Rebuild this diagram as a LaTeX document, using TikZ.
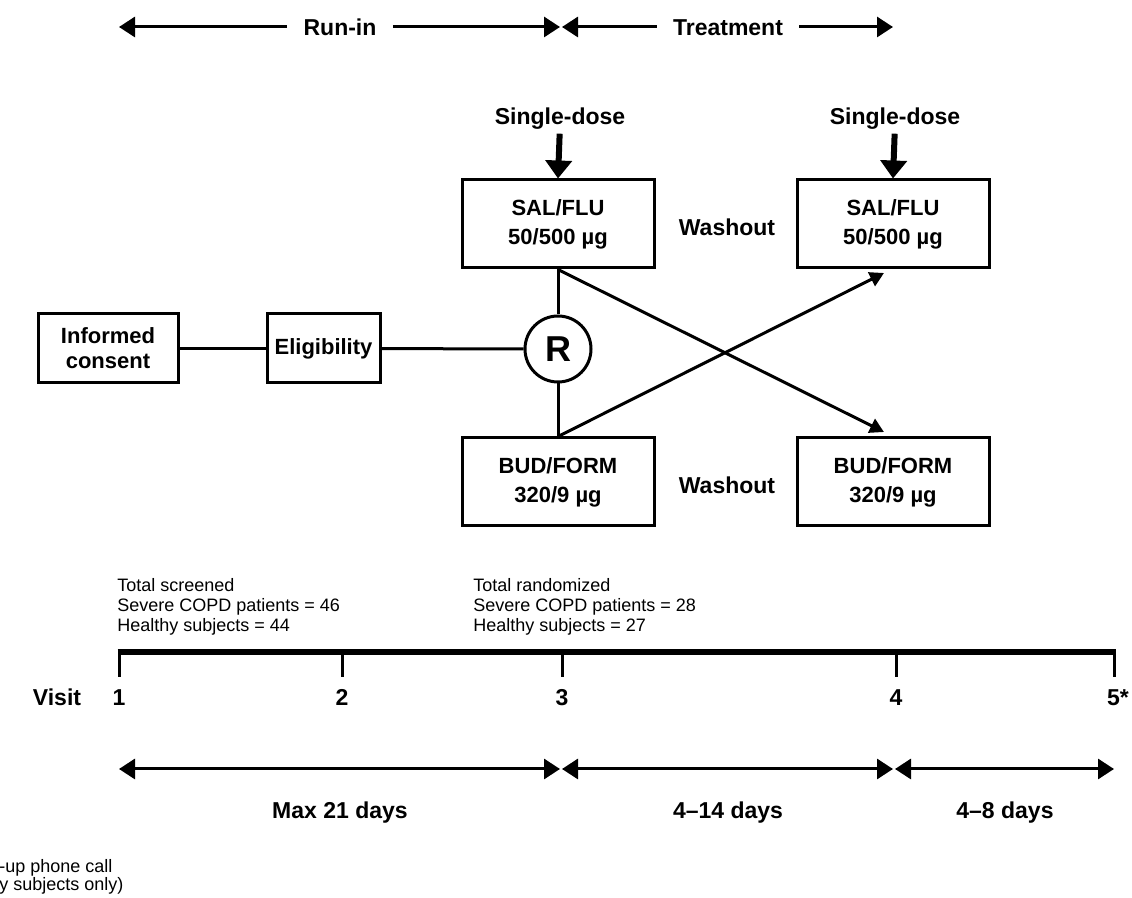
\documentclass[tikz,border=0pt]{standalone}
\usepackage{fontspec}
\setmainfont{Liberation Sans}
\usetikzlibrary{arrows.meta,calc}
\begin{document}
\begin{tikzpicture}[x=0.5pt,y=-0.5pt,
  lbl/.style={font=\fontsize{11.5}{13}\selectfont\bfseries, inner sep=0pt, text height=8.3pt, text depth=0pt},
  box/.style={draw, line width=1.5pt, align=center, font=\fontsize{11}{14.5}\selectfont\bfseries, inner sep=0pt},
  conn/.style={line width=1.5pt},
  span/.style={line width=1.5pt, -{Triangle[length=8pt,width=10pt]}},
  dspan/.style={line width=1.5pt, {Triangle[length=8pt,width=10pt]}-{Triangle[length=8pt,width=10pt]}},
  cross/.style={line width=1.5pt, -{Triangle[length=7pt,width=7.5pt]}},
  dose/.style={line width=3pt, -{Triangle[length=9pt,width=13pt]}},
  note/.style={font=\fontsize{9}{10}\selectfont, align=left, inner sep=0pt}
]
\useasboundingbox (0,0) rectangle (1132,898);
% top phase arrows
\node[lbl, inner xsep=8pt] (runin) at (340,27) {Run-in};
\coordinate (r1) at (119,27); \coordinate (r2) at (560,27);
\draw[span] (runin.west) -- (r1);
\draw[span] (runin.east) -- (r2);
\node[lbl, inner xsep=8pt] (treat) at (728,27) {Treatment};
\coordinate (t1) at (562,27); \coordinate (t2) at (893,27);
\draw[span] (treat.west) -- (t1);
\draw[span] (treat.east) -- (t2);
% single dose
\node[lbl] (sd1) at (560,116) {Single-dose};
\node[lbl] (sd2) at (895,116) {Single-dose};
% treatment boxes
\node[box, minimum width=96pt, minimum height=44pt] (sal1) at (558,224) {SAL/FLU\\50/500 µg};
\node[box, minimum width=96pt, minimum height=44pt] (sal2) at (893,224) {SAL/FLU\\50/500 µg};
\node[box, minimum width=96pt, minimum height=44pt] (bud1) at (558,482) {BUD/FORM\\320/9 µg};
\node[box, minimum width=96pt, minimum height=44pt] (bud2) at (893,482) {BUD/FORM\\320/9 µg};
\node[lbl] (wo1) at (727,227) {Washout};
\node[lbl] (wo2) at (727,485) {Washout};
\draw[dose, shorten <=4.5pt] (sd1.south) -- (sal1.north);
\draw[dose, shorten <=4.5pt] (sd2.south) -- (sal2.north);
% left part
\node[draw, circle, line width=1.5pt, minimum size=33pt, inner sep=0pt, font=\fontsize{18}{18}\selectfont\bfseries] (R) at (558,349) {R};
\node[box, minimum width=70pt, minimum height=34.5pt, font=\fontsize{11}{12.5}\selectfont\bfseries] (ic) at (108,348.5) {Informed\\consent};
\node[box, minimum width=56.5pt, minimum height=34.5pt] (el) at (323.5,348.5) {Eligibility};
\draw[conn] (ic) -- (el);
\draw[conn] (el) -- (R);
\draw[conn] (sal1) -- (R);
\draw[conn] (R) -- (bud1);
% crossover
\coordinate (c1) at (884,432); \coordinate (c2) at (884,273);
\draw[cross] (sal1.south) -- (c1);
\draw[cross] (bud1.north) -- (c2);
% counts
\node[note, anchor=west] (ts) at (117,607) {Total screened\\Severe COPD patients = 46\\Healthy subjects = 44};
\node[note, anchor=west] (tr) at (473,607) {Total randomized\\Severe COPD patients = 28\\Healthy subjects = 27};
% timeline
\coordinate (v1) at (119,652); \coordinate (v2) at (342,652); \coordinate (v3) at (562,652);
\coordinate (v4) at (896,652); \coordinate (v5) at (1114,652);
\draw[line width=3pt] ($(v1)+(-1.5,0)$) -- ($(v5)+(1.5,0)$);
\foreach \v in {v1,v2,v3,v4,v5} \draw[line width=1.5pt] (\v) -- ++(0,25);
\node[lbl] (visit) at (57,697) {Visit};
\node[lbl] (n1) at (119,697) {1};
\node[lbl] (n2) at (342,697) {2};
\node[lbl] (n3) at (562,697) {3};
\node[lbl] (n4) at (896,697) {4};
\node[lbl] (n5) at (1118,697) {5*};
% durations
\coordinate (b1) at (119,769); \coordinate (b2) at (560,769);
\coordinate (b3) at (562,769); \coordinate (b4) at (893,769);
\coordinate (b5) at (895,769); \coordinate (b6) at (1114,769);
\draw[dspan] (b1) -- (b2);
\draw[dspan] (b3) -- (b4);
\draw[dspan] (b5) -- (b6);
\node[lbl] (d1) at (340,810) {Max 21 days};
\node[lbl] (d2) at (728,810) {4–14 days};
\node[lbl] (d3) at (1005,810) {4–8 days};
% footnote (cut off at the left edge, as in the reference)
\node[note, anchor=west] (fn1) at (-1,868) {-up phone call};
\node[note, anchor=west] (fn2) at (-1,886) {y subjects only)};
\end{tikzpicture}
\end{document}
